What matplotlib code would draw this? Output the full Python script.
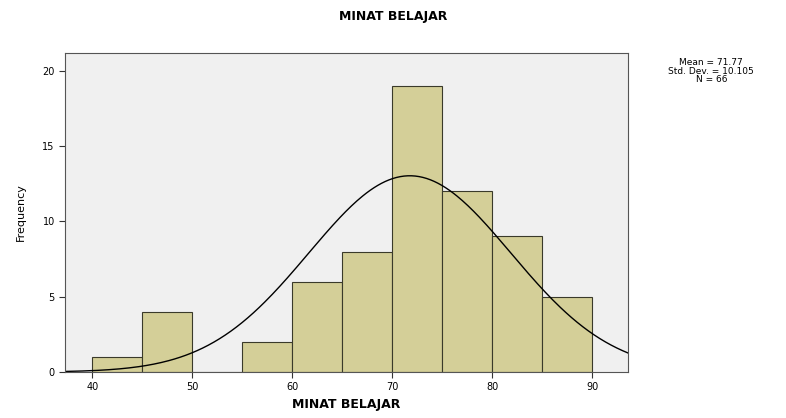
import numpy as np
import matplotlib
matplotlib.use("Agg")
import matplotlib.pyplot as plt

bin_edges = [40, 45, 50, 55, 60, 65, 70, 75, 80, 85, 90]
counts = [1, 4, 0, 2, 6, 8, 19, 12, 9, 5]
mean, sd, n = 71.77, 10.105, 66
x_ticks = [40, 50, 60, 70, 80, 90]
y_ticks = [0, 5, 10, 15, 20]

fig = plt.figure(figsize=(7.86, 4.18), dpi=100)
ax = fig.add_axes([0.083, 0.110, 0.716, 0.764])
ax.set_facecolor("#f0f0f0")

widths = np.diff(bin_edges)
ax.bar(bin_edges[:-1], counts, width=widths, align="edge",
       color="#d4cf98", edgecolor="#3a3a2a", linewidth=0.8)

xs = np.linspace(37.3, 93.6, 300)
ys = n * 5 / (sd * np.sqrt(2 * np.pi)) * np.exp(-0.5 * ((xs - mean) / sd) ** 2)
ax.plot(xs, ys, color="black", linewidth=1.0)

ax.set_xlim(37.3, 93.6)
ax.set_ylim(0, 21.2)
ax.set_xticks(x_ticks)
ax.set_yticks(y_ticks)
ax.tick_params(labelsize=7, length=4, color="#333333")
for s in ax.spines.values():
    s.set_color("#555555")
    s.set_linewidth(0.8)

ax.set_xlabel("MINAT BELAJAR", fontsize=9, fontweight="bold", labelpad=4)
ax.set_ylabel("Frequency", fontsize=8, labelpad=12)
fig.suptitle("MINAT BELAJAR", x=0.5, y=0.975, fontsize=9, fontweight="bold")

fig.text(0.905, 0.83, "Mean = 71.77\nStd. Dev. = 10.105\nN = 66",
         ha="center", va="center", fontsize=6.5, linespacing=0.95)

fig.savefig("out.png", dpi=100, facecolor="white")
